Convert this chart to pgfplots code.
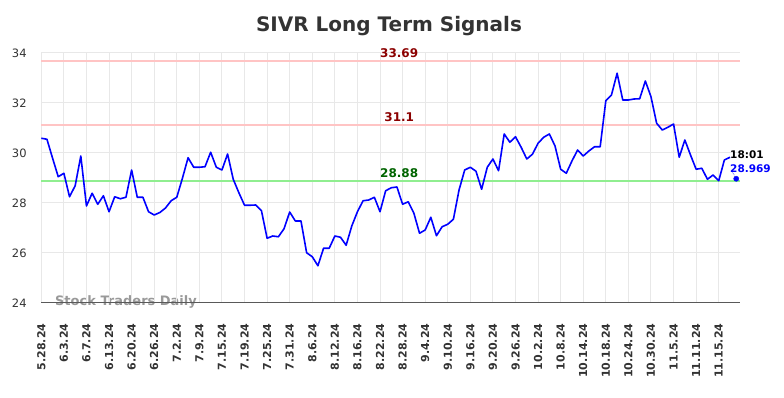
\documentclass[border=0pt]{standalone}
\usepackage{pgfplots}
\pgfplotsset{compat=1.18}
\usepackage{fontspec}
\setmainfont{DejaVu Sans}
\definecolor{gridc}{HTML}{E8E8E8}
\definecolor{resc}{HTML}{FFC4C4}
\definecolor{supc}{HTML}{90EE90}
\definecolor{reslab}{HTML}{8B0000}
\definecolor{suplab}{HTML}{006400}
\definecolor{txt}{HTML}{333333}
\begin{document}
\begin{tikzpicture}[x=1pt,y=1pt]
\useasboundingbox (0,0) rectangle (784,398);
\node[font=\bfseries\fontsize{20}{22}\selectfont, text=txt] at (389,372) {SIVR Long Term Signals};
\node[font=\bfseries\fontsize{13}{15}\selectfont, text=gray, opacity=0.8] at (126,96.3) {Stock Traders Daily};
\begin{axis}[
  at={(41.3pt,95pt)}, anchor=south west,
  scale only axis, width=698.7pt, height=250pt,
  xmin=0, xmax=123.77, ymin=24, ymax=34,
  axis x line=bottom, axis y line=left,
  axis line style={-},
  x axis line style={draw=black!65, line width=1pt},
  y axis line style={draw=none},
  tick style={draw=none},
  grid=major, major grid style={gridc, line width=1pt},
  xtick={0,4,...,120},
  xticklabels={5.28.24,6.3.24,6.7.24,6.13.24,6.20.24,6.26.24,7.2.24,7.9.24,7.15.24,7.19.24,7.25.24,7.31.24,8.6.24,8.12.24,8.16.24,8.22.24,8.28.24,9.4.24,9.10.24,9.16.24,9.20.24,9.26.24,10.2.24,10.8.24,10.14.24,10.18.24,10.24.24,10.30.24,11.5.24,11.11.24,11.15.24},
  xticklabel style={rotate=90, anchor=east, font=\bfseries\fontsize{11}{12}\selectfont, text=txt},
  xticklabel shift=15pt,
  ytick={24,26,...,34},
  yticklabel style={font=\fontsize{11.5}{12}\selectfont, text=txt},
  yticklabel shift=9pt,
  /pgf/number format/assume math mode=true,
  clip=false,
]
\addplot[resc, line width=2pt, forget plot] coordinates {(0,33.69) (123.77,33.69)};
\addplot[resc, line width=2pt, forget plot] coordinates {(0,31.1) (123.77,31.1)};
\addplot[supc, line width=2pt, forget plot] coordinates {(0,28.88) (123.77,28.88)};
\node[font=\bfseries\fontsize{12}{13}\selectfont, text=reslab] at (axis cs:63.4,33.69) [yshift=8pt] {33.69};
\node[font=\bfseries\fontsize{12}{13}\selectfont, text=reslab] at (axis cs:63.4,31.1) [yshift=8pt] {31.1};
\node[font=\bfseries\fontsize{12}{13}\selectfont, text=suplab] at (axis cs:63.4,28.88) [yshift=8pt] {28.88};
\addplot[blue, line width=1.6pt, line join=round] coordinates {
(0,30.59) (1,30.55) (2,29.79) (3,29.05) (4,29.19) (5,28.25) (6,28.69) (7,29.88) (8,27.88) (9,28.39)
(10,27.95) (11,28.29) (12,27.65) (13,28.25) (14,28.17) (15,28.23) (16,29.32) (17,28.23) (18,28.23) (19,27.65)
(20,27.52) (21,27.62) (22,27.80) (23,28.09) (24,28.23) (25,28.99) (26,29.81) (27,29.43) (28,29.43) (29,29.45)
(30,30.03) (31,29.43) (32,29.32) (33,29.96) (34,28.95) (35,28.41) (36,27.91) (37,27.91) (38,27.92) (39,27.69)
(40,26.59) (41,26.68) (42,26.65) (43,26.97) (44,27.64) (45,27.28) (46,27.28) (47,26.01) (48,25.85) (49,25.49)
(50,26.19) (51,26.19) (52,26.68) (53,26.63) (54,26.31) (55,27.08) (56,27.65) (57,28.09) (58,28.12) (59,28.23)
(60,27.65) (61,28.49) (62,28.61) (63,28.64) (64,27.95) (65,28.05) (66,27.59) (67,26.79) (68,26.92) (69,27.43)
(70,26.69) (71,27.05) (72,27.15) (73,27.35) (74,28.52) (75,29.32) (76,29.43) (77,29.27) (78,28.55) (79,29.43)
(80,29.76) (81,29.29) (82,30.76) (83,30.43) (84,30.65) (85,30.23) (86,29.76) (87,29.95) (88,30.39) (89,30.63)
(90,30.76) (91,30.28) (92,29.35) (93,29.19) (94,29.68) (95,30.12) (96,29.88) (97,30.08) (98,30.25) (99,30.25)
(100,32.09) (101,32.32) (102,33.19) (103,32.12) (104,32.12) (105,32.16) (106,32.17) (107,32.88) (108,32.25) (109,31.19)
(110,30.92) (111,31.03) (112,31.16) (113,29.83) (114,30.52) (115,29.92) (116,29.35) (117,29.39) (118,28.95) (119,29.12)
(120,28.89) (121,29.72) (122,29.83)
};
\addplot[blue, only marks, mark=*, mark size=2.6pt] coordinates {(123.1,28.969)};
\draw[blue, densely dotted, line width=0.6pt] (axis cs:122.4,29.25) -- (axis cs:122.9,29.05);
\node[font=\bfseries\fontsize{10.5}{11}\selectfont, text=black, anchor=west, inner sep=0pt] at (axis cs:122,29.92) {18:01};
\node[font=\bfseries\fontsize{10.5}{11}\selectfont, text=blue, anchor=west, inner sep=0pt] at (axis cs:122,29.39) {28.969};
\end{axis}
\end{tikzpicture}
\end{document}
